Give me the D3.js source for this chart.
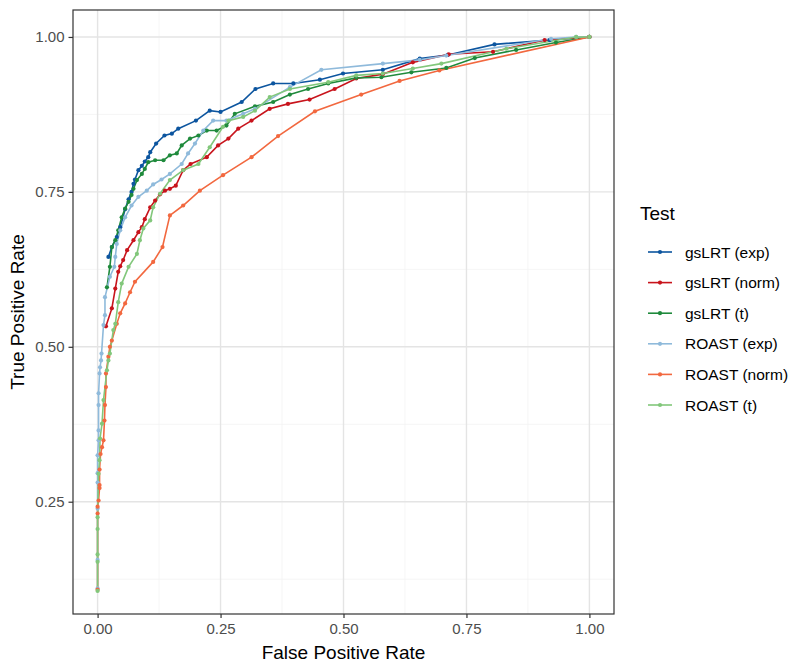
<!DOCTYPE html>
<html>
<head>
<meta charset="utf-8">
<script src="https://cdn.jsdelivr.net/npm/d3@7"></script>
<style>
  body { margin: 0; background: #fff; }
  text { font-family: "Liberation Sans", Arial, sans-serif; }
</style>
</head>
<body>
<svg id="roc" width="800" height="669"></svg>
<script>
// series names and colours (legend order)
const tests = ["gsLRT (exp)", "gsLRT (norm)", "gsLRT (t)", "ROAST (exp)", "ROAST (norm)", "ROAST (t)"];
const colors = ["#0c559f", "#c8141c", "#1f8a3c", "#8fbadb", "#f2683f", "#82c77b"];

// false / true positive rates
const gsExpFpr = [0.022,0.029,0.039,0.046,0.056,0.063,0.069,0.073,0.076,0.083,0.090,0.096,0.103,0.107,0.119,0.136,0.151,0.164,0.200,0.228,0.250,0.293,0.321,0.357,0.398,0.452,0.499,0.580,0.655,0.712,0.807,0.919,1.0];
const gsExpTpr = [0.645,0.661,0.677,0.693,0.722,0.738,0.750,0.763,0.770,0.785,0.792,0.799,0.806,0.814,0.828,0.841,0.844,0.852,0.865,0.881,0.879,0.895,0.916,0.925,0.925,0.931,0.941,0.947,0.965,0.971,0.988,0.995,1.0];

const gsNormFpr = [0.017,0.029,0.036,0.042,0.046,0.052,0.060,0.073,0.083,0.090,0.096,0.107,0.117,0.127,0.137,0.147,0.159,0.174,0.189,0.222,0.245,0.266,0.286,0.313,0.350,0.387,0.431,0.482,0.526,0.580,0.641,0.714,0.804,0.909,1.0];
const gsNormTpr = [0.533,0.562,0.594,0.621,0.630,0.640,0.656,0.672,0.685,0.693,0.706,0.725,0.736,0.746,0.752,0.755,0.760,0.785,0.795,0.806,0.825,0.836,0.852,0.865,0.884,0.892,0.899,0.916,0.933,0.940,0.959,0.972,0.976,0.995,1.0];

const gsTFpr = [0.019,0.025,0.029,0.036,0.042,0.049,0.056,0.063,0.069,0.073,0.080,0.090,0.096,0.103,0.117,0.134,0.147,0.161,0.171,0.188,0.205,0.222,0.242,0.262,0.279,0.320,0.357,0.391,0.428,0.469,0.526,0.577,0.638,0.709,0.767,0.851,0.932,1.0];
const gsTTpr = [0.596,0.629,0.661,0.672,0.688,0.709,0.723,0.734,0.745,0.755,0.769,0.779,0.787,0.798,0.801,0.801,0.809,0.812,0.825,0.836,0.841,0.849,0.849,0.857,0.876,0.888,0.895,0.907,0.916,0.925,0.934,0.935,0.943,0.950,0.966,0.979,0.991,1.0];

const roExpFpr = [0,0,0,0,0,0,0.002,0.002,0.002,0.002,0.004,0.005,0.007,0.008,0.012,0.015,0.015,0.025,0.034,0.036,0.039,0.046,0.056,0.069,0.083,0.100,0.113,0.130,0.147,0.171,0.184,0.198,0.215,0.235,0.262,0.296,0.320,0.391,0.455,0.580,0.655,0.709,0.922,0.973,1.0];
const roExpTpr = [0.110,0.156,0.239,0.281,0.296,0.325,0.349,0.365,0.406,0.425,0.457,0.467,0.478,0.489,0.535,0.551,0.580,0.613,0.629,0.645,0.666,0.688,0.709,0.728,0.742,0.752,0.762,0.770,0.779,0.795,0.812,0.828,0.849,0.865,0.865,0.876,0.884,0.919,0.947,0.957,0.963,0.970,0.997,1.0,1.0];

const roNormFpr = [0,0,0,0.002,0.004,0.004,0.004,0.006,0.009,0.012,0.014,0.015,0.017,0.017,0.022,0.025,0.029,0.039,0.046,0.056,0.066,0.076,0.113,0.132,0.147,0.174,0.208,0.255,0.313,0.367,0.442,0.536,0.614,0.695,1.0];
const roNormTpr = [0.108,0.231,0.242,0.252,0.272,0.277,0.302,0.327,0.338,0.349,0.381,0.406,0.435,0.457,0.484,0.500,0.510,0.537,0.554,0.570,0.588,0.605,0.637,0.661,0.712,0.728,0.752,0.777,0.806,0.840,0.880,0.907,0.929,0.946,1.0];

const roTFpr = [0,0,0,0,0,0.002,0.004,0.005,0.009,0.012,0.019,0.022,0.025,0.032,0.036,0.042,0.049,0.063,0.080,0.086,0.093,0.107,0.113,0.127,0.147,0.174,0.205,0.228,0.255,0.266,0.296,0.320,0.350,0.391,0.469,0.526,0.580,0.641,0.699,0.831,0.973,1.0];
const roTTpr = [0.106,0.153,0.165,0.206,0.225,0.295,0.317,0.352,0.376,0.414,0.462,0.478,0.489,0.527,0.537,0.572,0.602,0.629,0.650,0.672,0.691,0.704,0.725,0.747,0.769,0.785,0.795,0.822,0.855,0.865,0.871,0.881,0.903,0.916,0.927,0.938,0.941,0.949,0.957,0.981,1.0,1.0];

const xTicks = [0, 0.25, 0.5, 0.75, 1];
const yTicks = [0.25, 0.5, 0.75, 1];

const fprs = [gsExpFpr, gsNormFpr, gsTFpr, roExpFpr, roNormFpr, roTFpr];
const tprs = [gsExpTpr, gsNormTpr, gsTTpr, roExpTpr, roNormTpr, roTTpr];
const series = tests.map((name, i) => ({
  name, color: colors[i],
  pts: fprs[i].map((f, j) => ({ x: f, y: tprs[i][j] }))
}));

const panel = { left: 73, right: 614, top: 10, bottom: 614 };
const svg = d3.select("#roc");

const x = d3.scaleLinear().domain([-0.05, 1.05]).range([panel.left, panel.right]);
const y = d3.scaleLinear().domain([0.0688, 1.0435]).range([panel.bottom, panel.top]);

// grid
const g = svg.append("g");
const minorX = [0.125, 0.375, 0.625, 0.875];
const minorY = [0.125, 0.375, 0.625, 0.875];
g.selectAll(".mx").data(minorX).enter().append("line")
  .attr("x1", d => x(d)).attr("x2", d => x(d))
  .attr("y1", panel.top).attr("y2", panel.bottom)
  .attr("stroke", "#f2f2f2").attr("stroke-width", 0.8);
g.selectAll(".my").data(minorY).enter().append("line")
  .attr("y1", d => y(d)).attr("y2", d => y(d))
  .attr("x1", panel.left).attr("x2", panel.right)
  .attr("stroke", "#f2f2f2").attr("stroke-width", 0.8);
g.selectAll(".gx").data(xTicks).enter().append("line")
  .attr("x1", d => x(d)).attr("x2", d => x(d))
  .attr("y1", panel.top).attr("y2", panel.bottom)
  .attr("stroke", "#e4e4e4").attr("stroke-width", 1.4);
g.selectAll(".gy").data(yTicks).enter().append("line")
  .attr("y1", d => y(d)).attr("y2", d => y(d))
  .attr("x1", panel.left).attr("x2", panel.right)
  .attr("stroke", "#e4e4e4").attr("stroke-width", 1.4);

// lines then points
const line = d3.line().x(d => x(d.x)).y(d => y(d.y));
svg.append("g").selectAll("path").data(series).enter().append("path")
  .attr("d", d => line(d.pts))
  .attr("fill", "none")
  .attr("stroke", d => d.color)
  .attr("stroke-width", 1.6);

series.forEach(s => {
  svg.append("g").selectAll("circle").data(s.pts).enter().append("circle")
    .attr("cx", d => x(d.x)).attr("cy", d => y(d.y)).attr("r", 2.1)
    .attr("fill", s.color);
});

// panel border
svg.append("rect")
  .attr("x", panel.left).attr("y", panel.top)
  .attr("width", panel.right - panel.left).attr("height", panel.bottom - panel.top)
  .attr("fill", "none").attr("stroke", "#333").attr("stroke-width", 1.2);

// axes
const xAxis = svg.append("g")
  .attr("transform", `translate(0,${panel.bottom})`)
  .call(d3.axisBottom(x).tickValues(xTicks).tickFormat(d3.format(".2f")).tickSize(4).tickPadding(5));
const yAxis = svg.append("g")
  .attr("transform", `translate(${panel.left},0)`)
  .call(d3.axisLeft(y).tickValues(yTicks).tickFormat(d3.format(".2f")).tickSize(4.5).tickPadding(4));
[xAxis, yAxis].forEach(a => {
  a.select(".domain").remove();
  a.selectAll(".tick line").attr("stroke", "#333").attr("stroke-width", 1.2);
  a.selectAll(".tick text").attr("fill", "#4d4d4d")
    .style("font-size", "15px").style("font-family", "Liberation Sans, Arial, sans-serif");
});

svg.append("text")
  .attr("x", (panel.left + panel.right) / 2).attr("y", 659)
  .attr("text-anchor", "middle").style("font-size", "19px")
  .text("False Positive Rate");
svg.append("text")
  .attr("transform", `translate(24,${(panel.top + panel.bottom) / 2}) rotate(-90)`)
  .attr("text-anchor", "middle").style("font-size", "19px")
  .text("True Positive Rate");

// legend
const legend = svg.append("g");
legend.append("text").attr("x", 640).attr("y", 220)
  .style("font-size", "19px").text("Test");
const item = legend.selectAll(".item").data(series).enter().append("g")
  .attr("transform", (d, i) => `translate(0,${252 + i * 30.6})`);
item.append("line").attr("x1", 648).attr("x2", 672)
  .attr("stroke", d => d.color).attr("stroke-width", 1.6);
item.append("circle").attr("cx", 660).attr("r", 2.1).attr("fill", d => d.color);
item.append("text").attr("x", 685).attr("y", 5.5)
  .style("font-size", "15.5px").text(d => d.name);
</script>
</body>
</html>
